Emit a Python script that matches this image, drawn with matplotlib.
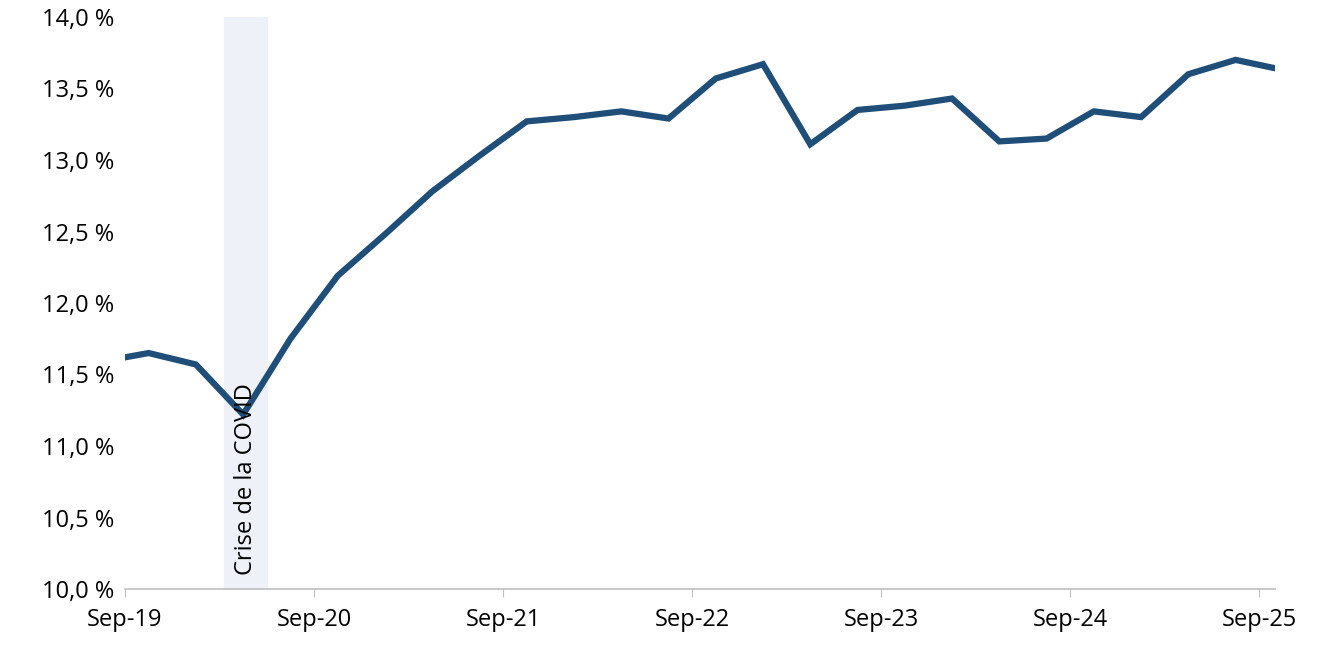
import matplotlib.pyplot as plt

# months since Sep-19, one point per quarter
months = [-1.5 + 3 * k for k in range(26)]
ratio = [11.59, 11.65, 11.57, 11.22, 11.75, 12.19, 12.48, 12.78, 13.03, 13.27,
         13.30, 13.34, 13.29, 13.57, 13.67, 13.11, 13.35, 13.38, 13.43, 13.13,
         13.15, 13.34, 13.30, 13.60, 13.70, 13.63]
tick_pos = [0, 12, 24, 36, 48, 60, 72]
tick_labels = ['Sep-19', 'Sep-20', 'Sep-21', 'Sep-22', 'Sep-23', 'Sep-24', 'Sep-25']
covid_span = (6.3, 9.0)

plt.rcParams['font.family'] = ['Open Sans', 'DejaVu Sans']
fig = plt.figure(figsize=(13.21, 6.57), dpi=100)
ax = fig.add_axes([125 / 1321, 68 / 657, 1150 / 1321, 572 / 657])

ax.axvspan(*covid_span, color='#eef2f8', zorder=0)
ax.plot(months, ratio, color='#1f4e79', lw=4.5, solid_joinstyle='miter', zorder=2)
ax.text(sum(covid_span) / 2, 10.1, 'Crise de la COVID', rotation=90, ha='center',
        va='bottom', fontsize=17, color='black', zorder=3)

ax.set_xlim(0, 73)
ax.set_ylim(10, 14)
ax.set_yticks([10 + 0.5 * i for i in range(9)])
ax.set_yticklabels([f'{10 + 0.5 * i:.1f} %'.replace('.', ',') for i in range(9)])
ax.set_xticks(tick_pos)
ax.set_xticklabels(tick_labels)
ax.tick_params(axis='both', labelsize=17, length=0, pad=8)
ax.tick_params(axis='x', length=6, color='#bfbfbf', direction='out')
for s in ['top', 'right', 'left']:
    ax.spines[s].set_visible(False)
ax.spines['bottom'].set_color('#bfbfbf')
ax.spines['bottom'].set_linewidth(1.2)

fig.savefig('out.png')
